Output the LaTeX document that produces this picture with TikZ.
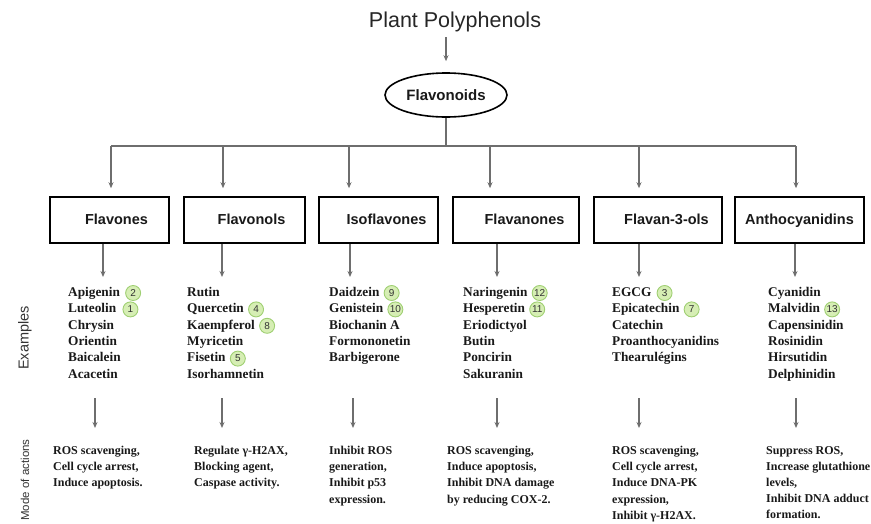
\documentclass[tikz,border=0pt]{standalone}
\usepackage{fontspec}
\setmainfont{Liberation Serif}
\setsansfont{Liberation Sans}
\usetikzlibrary{arrows.meta,shapes.geometric}
\definecolor{lnc}{HTML}{6E6E6E}
\definecolor{numfill}{HTML}{D6EEB4}
\definecolor{numline}{HTML}{9FCF72}
\begin{document}
\begin{tikzpicture}[x=1pt,y=-1pt,
  line/.style={draw=lnc, line width=1.1pt},
  conn/.style={draw=lnc, line width=1.1pt, -{Stealth[length=6pt,width=5pt]}},
  catbox/.style={draw=black, line width=1.6pt, rectangle, minimum height=46pt, inner sep=0pt,
    text height=10.5pt, text depth=1pt,
    font=\sffamily\bfseries\fontsize{14.5}{16}\selectfont, text=black!90},
  exline/.style={anchor=west, inner sep=0pt, text height=9.5pt, text depth=3pt,
    font=\bfseries\fontsize{13.3}{16}\selectfont, text=black!90},
  act/.style={anchor=north west, align=left, inner sep=0pt,
    font=\bfseries\fontsize{12}{16.2}\selectfont, text=black!90},
  num/.style={circle, draw=numline, fill=numfill, line width=0.9pt, inner sep=0pt,
    minimum size=15pt, font=\sffamily\fontsize{10}{10}\selectfont, text=black!80},
  side/.style={rotate=90, inner sep=0pt, font=\sffamily\fontsize{14.5}{16}\selectfont, text=black!80}]
\useasboundingbox (0,0) rectangle (871,523);

% title and root
\node[inner sep=0pt, font=\sffamily\fontsize{21.5}{24}\selectfont, text=black!85] (title) at (455,22) {Plant Polyphenols};
\node[ellipse, draw=black, line width=1.6pt, minimum width=122pt, minimum height=44pt, inner sep=0pt,
  font=\sffamily\bfseries\fontsize{15}{16}\selectfont, text=black!90] (flav) at (446,95) {Flavonoids};
\draw[conn] ([yshift=-5pt]title.south -| flav.north) -- ([yshift=11pt]flav.north);

% bus
\coordinate (bus) at (446,146);
\coordinate (busL) at (111,146);
\coordinate (busR) at (796,146);
\draw[line] (flav.south) -- (bus);
\draw[line] (busL) -- (busR);

% category boxes
\node[catbox, minimum width=119pt] (b1) at (109.5,220) {\hspace*{14pt}Flavones};
\node[catbox, minimum width=121pt] (b2) at (244.5,220) {\hspace*{14pt}Flavonols};
\node[catbox, minimum width=119pt] (b3) at (378.5,220) {\hspace*{16pt}Isoflavones};
\node[catbox, minimum width=126pt] (b4) at (516,220) {\hspace*{17pt}Flavanones};
\node[catbox, minimum width=128pt] (b5) at (658,220) {\hspace*{17pt}Flavan-3-ols};
\node[catbox, minimum width=129pt] (b6) at (799.5,220) {Anthocyanidins};

\coordinate (t1) at (111,146);
\coordinate (t2) at (223,146);
\coordinate (t3) at (349,146);
\coordinate (t4) at (490,146);
\coordinate (t5) at (639,146);
\coordinate (t6) at (796,146);
\foreach \i in {1,...,6}
  \draw[conn] (t\i) -- ([yshift=8pt]t\i |- b\i.north);

% arrows box -> examples
\coordinate (e1) at (103,277);
\coordinate (e2) at (222,277);
\coordinate (e3) at (350,277);
\coordinate (e4) at (497,277);
\coordinate (e5) at (639,277);
\coordinate (e6) at (795,277);
\foreach \i in {1,...,6}
  \draw[conn] (e\i |- b\i.south) -- (e\i);

% examples
\foreach \t [count=\i] in {Apigenin,Luteolin,Chrysin,Orientin,Baicalein,Acacetin}
  \node[exline] (a\i) at (68,{293+16.4*(\i-1)}) {\t};
\foreach \t [count=\i] in {Rutin,Quercetin,Kaempferol,Myricetin,Fisetin,Isorhamnetin}
  \node[exline] (c\i) at (187,{293+16.4*(\i-1)}) {\t};
\foreach \t [count=\i] in {Daidzein,Genistein,Biochanin A,Formononetin,Barbigerone}
  \node[exline] (d\i) at (329,{293+16.4*(\i-1)}) {\t};
\foreach \t [count=\i] in {Naringenin,Hesperetin,Eriodictyol,Butin,Poncirin,Sakuranin}
  \node[exline] (f\i) at (463,{293+16.4*(\i-1)}) {\t};
\foreach \t [count=\i] in {EGCG,Epicatechin,Catechin,Proanthocyanidins,Thearulégins}
  \node[exline] (g\i) at (612,{293+16.4*(\i-1)}) {\t};
\foreach \t [count=\i] in {Cyanidin,Malvidin,Capensinidin,Rosinidin,Hirsutidin,Delphinidin}
  \node[exline] (h\i) at (768,{293+16.4*(\i-1)}) {\t};

% numbered circles
\node[num] (n2)  at ([xshift=13pt]a1.east) {2};
\node[num] (n1)  at ([xshift=14pt]a2.east) {1};
\node[num] (n4)  at ([xshift=12pt]c2.east) {4};
\node[num] (n8)  at ([xshift=12pt]c3.east) {8};
\node[num] (n5)  at ([xshift=12pt]c5.east) {5};
\node[num] (n9)  at ([xshift=12pt]d1.east) {9};
\node[num] (n10) at ([xshift=12pt]d2.east) {10};
\node[num] (n12) at ([xshift=12pt]f1.east) {12};
\node[num] (n11) at ([xshift=12pt]f2.east) {11};
\node[num] (n3)  at ([xshift=13pt]g1.east) {3};
\node[num] (n7)  at ([xshift=12pt]g2.east) {7};
\node[num] (n13) at ([xshift=12pt]h2.east) {13};

% arrows to modes of action
\coordinate (m1s) at (95,398);  \coordinate (m1e) at (95,428);
\coordinate (m2s) at (222,398); \coordinate (m2e) at (222,428);
\coordinate (m3s) at (353,398); \coordinate (m3e) at (353,428);
\coordinate (m4s) at (497,398); \coordinate (m4e) at (497,428);
\coordinate (m5s) at (639,398); \coordinate (m5e) at (639,428);
\coordinate (m6s) at (796,398); \coordinate (m6e) at (796,428);
\foreach \i in {1,...,6}
  \draw[conn] (m\i s) -- (m\i e);

% modes of action
\node[act] (k1) at (53,446)  {ROS scavenging,\\Cell cycle arrest,\\Induce apoptosis.};
\node[act] (k2) at (194,446) {Regulate γ-H2AX,\\Blocking agent,\\Caspase activity.};
\node[act] (k3) at (329,446) {Inhibit ROS\\generation,\\Inhibit p53\\expression.};
\node[act] (k4) at (447,446) {ROS scavenging,\\Induce apoptosis,\\Inhibit DNA damage\\by reducing COX-2.};
\node[act] (k5) at (612,446) {ROS scavenging,\\Cell cycle arrest,\\Induce DNA-PK\\expression,\\Inhibit γ-H2AX.};
\node[act] (k6) at (766,446) {Suppress ROS,\\Increase glutathione\\levels,\\Inhibit DNA adduct\\formation.};

% side labels
\node[side] (sx) at (25,338) {Examples};
\node[side, font=\sffamily\fontsize{11.5}{13}\selectfont] (sm) at (25,480) {Mode of actions};
\end{tikzpicture}
\end{document}
